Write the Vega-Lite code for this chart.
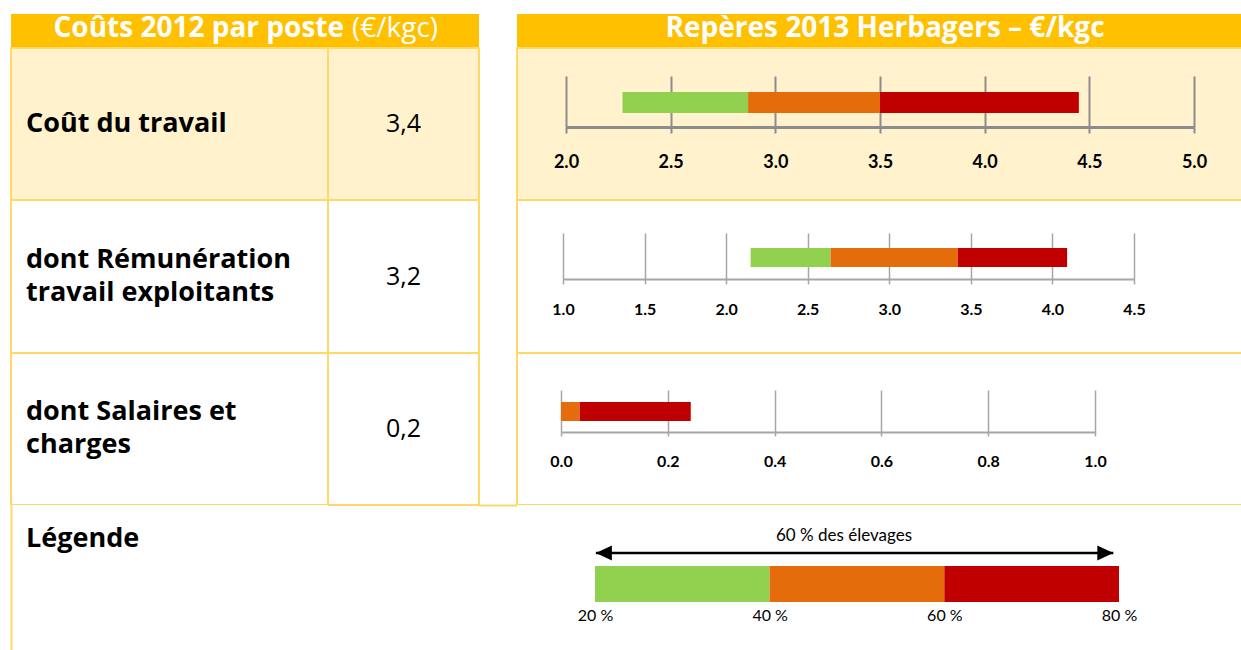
{
  "$schema": "https://vega.github.io/schema/vega-lite/v6.json",
  "background": "white",
  "padding": {"left": 10, "top": 14, "right": 0, "bottom": 0},
  "columns": 4,
  "align": "each",
  "bounds": "flush",
  "spacing": 0,
  "config": {"view": {"stroke": null}, "font": "Open Sans", "axis": {"grid": false, "labelFont": "Lato"}},
  "datasets": {
    "postes": [
      {"poste": "Coût du travail", "libelle": "Coût du travail", "valeur": "3,4"},
      {"poste": "Rémunération", "libelle": "dont Rémunération\ntravail exploitants", "valeur": "3,2"},
      {"poste": "Salaires", "libelle": "dont Salaires et\ncharges", "valeur": "0,2"}
    ],
    "reperes": [
      {"poste": "Coût du travail", "tranche": "20-40 %", "debut": 2.27, "fin": 2.87},
      {"poste": "Coût du travail", "tranche": "40-60 %", "debut": 2.87, "fin": 3.50},
      {"poste": "Coût du travail", "tranche": "60-80 %", "debut": 3.50, "fin": 4.45},
      {"poste": "Rémunération", "tranche": "20-40 %", "debut": 2.15, "fin": 2.64},
      {"poste": "Rémunération", "tranche": "40-60 %", "debut": 2.64, "fin": 3.42},
      {"poste": "Rémunération", "tranche": "60-80 %", "debut": 3.42, "fin": 4.09},
      {"poste": "Salaires", "tranche": "20-40 %", "debut": 0, "fin": 0},
      {"poste": "Salaires", "tranche": "40-60 %", "debut": 0, "fin": 0.035},
      {"poste": "Salaires", "tranche": "60-80 %", "debut": 0.035, "fin": 0.243}
    ],
    "legende": [
      {"ligne": "barre", "tranche": "20-40 %", "debut": 20, "fin": 40},
      {"ligne": "barre", "tranche": "40-60 %", "debut": 40, "fin": 60},
      {"ligne": "barre", "tranche": "60-80 %", "debut": 60, "fin": 80}
    ],
    "entetes": [
      {"entete": "gauche", "partie": "gras", "texte": "Coûts 2012 par poste"},
      {"entete": "gauche", "partie": "normal", "texte": "(€/kgc)"},
      {"entete": "droite", "partie": "gras", "texte": "Repères 2013 Herbagers – €/kgc"}
    ]
  },
  "concat": [
    {"width": 317, "height": 34, "view": {"fill": "#FFC000", "stroke": null}, "data": {"values": [{}]}, "mark": {"type": "point", "opacity": 0}},
    {
      "width": 151, "height": 34,
      "view": {"fill": "#FFC000", "stroke": null},
      "data": {"name": "entetes"},
      "transform": [{"filter": "datum.entete === 'gauche'"}],
      "layer": [
        {
          "transform": [{"filter": "datum.partie === 'gras'"}],
          "mark": {"type": "text", "align": "right", "baseline": "middle", "fontWeight": "bold", "fontSize": 28, "color": "white", "dy": -2},
          "encoding": {
            "x": {"field": "partie", "type": "nominal", "scale": {"type": "point", "domain": ["gras", "normal"], "range": [16, 24], "padding": 0}, "axis": null},
            "text": {"field": "texte"}
          }
        },
        {
          "transform": [{"filter": "datum.partie === 'normal'"}],
          "mark": {"type": "text", "align": "left", "baseline": "middle", "fontWeight": "normal", "fontSize": 28, "color": "white", "dy": -2},
          "encoding": {
            "x": {"field": "partie", "type": "nominal"},
            "text": {"field": "texte"}
          }
        }
      ]
    },
    {"width": 38, "height": 34, "data": {"values": [{}]}, "mark": {"type": "point", "opacity": 0}},
    {
      "width": 726, "height": 34,
      "view": {"fill": "#FFC000", "stroke": null},
      "data": {"name": "entetes"},
      "transform": [{"filter": "datum.entete === 'droite'"}],
      "mark": {"type": "text", "align": "center", "baseline": "middle", "fontWeight": "bold", "fontSize": 28, "color": "white", "dy": -2, "dx": 5},
      "encoding": {"text": {"field": "texte"}}
    },

    {
      "width": 317, "height": 152,
      "view": {"fill": "#FFF2CC", "stroke": "#FFD966", "strokeWidth": 2},
      "data": {"name": "postes"},
      "transform": [{"filter": "datum.poste === 'Coût du travail'"}],
      "mark": {"type": "text", "align": "left", "baseline": "middle", "fontWeight": "bold", "fontSize": 27, "lineBreak": "\n", "lineHeight": 33, "color": "black"},
      "encoding": {
        "x": {"field": "poste", "type": "nominal", "scale": {"type": "point", "range": [15, 15]}, "axis": null},
        "text": {"field": "libelle"}
      }
    },
    {
      "width": 151, "height": 152,
      "view": {"fill": "#FFF2CC", "stroke": "#FFD966", "strokeWidth": 2},
      "data": {"name": "postes"},
      "transform": [{"filter": "datum.poste === 'Coût du travail'"}],
      "mark": {"type": "text", "align": "center", "baseline": "middle", "fontSize": 25, "color": "black"},
      "encoding": {"text": {"field": "valeur"}}
    },
    {"width": 38, "height": 152, "data": {"values": [{}]}, "mark": {"type": "point", "opacity": 0}},
    {
      "width": 726, "height": 152,
      "view": {"fill": "#FFF2CC", "stroke": "#FFD966", "strokeWidth": 2},
      "data": {"name": "reperes"},
      "transform": [{"filter": "datum.poste === 'Coût du travail'"}],
      "layer": [
        {
          "mark": {"type": "bar"},
          "encoding": {
            "x": {"field": "debut", "type": "quantitative",
                  "scale": {"domain": [2, 5], "range": [49, 677], "nice": false, "zero": false},
                  "axis": {"orient": "bottom", "values": [2, 2.5, 3, 3.5, 4, 4.5, 5], "offset": -73, "labels": false, "domain": true, "domainColor": "#8C8C8C", "domainWidth": 3, "ticks": true, "tickSize": -51, "tickColor": "#8C8C8C", "tickWidth": 2, "grid": false, "title": null}},
            "x2": {"field": "fin"},
            "y": {"field": "poste", "type": "nominal", "scale": {"range": [44, 65], "paddingInner": 0, "paddingOuter": 0}, "axis": null},
            "color": {"field": "tranche", "type": "nominal", "scale": {"domain": ["20-40 %", "40-60 %", "60-80 %"], "range": ["#92D050", "#E46C0A", "#C00000"]}, "legend": null}
          }
        },
        {
          "mark": {"type": "tick", "opacity": 0},
          "encoding": {
            "x": {"field": "debut", "type": "quantitative",
                  "axis": {"orient": "bottom", "values": [2, 2.5, 3, 3.5, 4, 4.5, 5], "offset": -73, "labels": true, "domain": false, "ticks": true, "tickSize": 6, "tickColor": "#8C8C8C", "tickWidth": 2, "format": ".1f", "labelFontSize": 18, "labelFontWeight": "bold", "labelColor": "black", "labelPadding": 20, "labelFlush": false, "labelOverlap": false, "grid": false, "title": null}}
          }
        }
      ],
      "resolve": {"axis": {"x": "independent"}}
    },

    {
      "width": 317, "height": 153,
      "view": {"fill": "white", "stroke": "#FFD966", "strokeWidth": 2},
      "data": {"name": "postes"},
      "transform": [{"filter": "datum.poste === 'Rémunération'"}],
      "mark": {"type": "text", "align": "left", "baseline": "middle", "fontWeight": "bold", "fontSize": 27, "lineBreak": "\n", "lineHeight": 33, "color": "black", "dy": -17},
      "encoding": {
        "x": {"field": "poste", "type": "nominal", "scale": {"type": "point", "range": [15, 15]}, "axis": null},
        "text": {"field": "libelle"}
      }
    },
    {
      "width": 151, "height": 153,
      "view": {"fill": "white", "stroke": "#FFD966", "strokeWidth": 2},
      "data": {"name": "postes"},
      "transform": [{"filter": "datum.poste === 'Rémunération'"}],
      "mark": {"type": "text", "align": "center", "baseline": "middle", "fontSize": 25, "color": "black"},
      "encoding": {"text": {"field": "valeur"}}
    },
    {"width": 38, "height": 153, "data": {"values": [{}]}, "mark": {"type": "point", "opacity": 0}},
    {
      "width": 726, "height": 153,
      "view": {"fill": "white", "stroke": "#FFD966", "strokeWidth": 2},
      "data": {"name": "reperes"},
      "transform": [{"filter": "datum.poste === 'Rémunération'"}],
      "layer": [
        {
          "mark": {"type": "bar"},
          "encoding": {
            "x": {"field": "debut", "type": "quantitative",
                  "scale": {"domain": [1, 4.5], "range": [46, 617], "nice": false, "zero": false},
                  "axis": {"orient": "bottom", "values": [1, 1.5, 2, 2.5, 3, 3.5, 4, 4.5], "offset": -74, "labels": false, "domain": true, "domainColor": "#A6A6A6", "domainWidth": 2, "ticks": true, "tickSize": -46, "tickColor": "#A6A6A6", "tickWidth": 1.5, "grid": false, "title": null}},
            "x2": {"field": "fin"},
            "y": {"field": "poste", "type": "nominal", "scale": {"range": [48, 67], "paddingInner": 0, "paddingOuter": 0}, "axis": null},
            "color": {"field": "tranche", "type": "nominal", "scale": {"domain": ["20-40 %", "40-60 %", "60-80 %"], "range": ["#92D050", "#E46C0A", "#C00000"]}, "legend": null}
          }
        },
        {
          "mark": {"type": "tick", "opacity": 0},
          "encoding": {
            "x": {"field": "debut", "type": "quantitative",
                  "axis": {"orient": "bottom", "values": [1, 1.5, 2, 2.5, 3, 3.5, 4, 4.5], "offset": -74, "labels": true, "domain": false, "ticks": true, "tickSize": 5, "tickColor": "#A6A6A6", "tickWidth": 1.5, "format": ".1f", "labelFontSize": 16, "labelFontWeight": "bold", "labelColor": "black", "labelPadding": 17, "labelFlush": false, "labelOverlap": false, "grid": false, "title": null}}
          }
        }
      ],
      "resolve": {"axis": {"x": "independent"}}
    },

    {
      "width": 317, "height": 152,
      "view": {"fill": "white", "stroke": "#FFD966", "strokeWidth": 2},
      "data": {"name": "postes"},
      "transform": [{"filter": "datum.poste === 'Salaires'"}],
      "mark": {"type": "text", "align": "left", "baseline": "middle", "fontWeight": "bold", "fontSize": 27, "lineBreak": "\n", "lineHeight": 33, "color": "black", "dy": -17},
      "encoding": {
        "x": {"field": "poste", "type": "nominal", "scale": {"type": "point", "range": [15, 15]}, "axis": null},
        "text": {"field": "libelle"}
      }
    },
    {
      "width": 151, "height": 152,
      "view": {"fill": "white", "stroke": "#FFD966", "strokeWidth": 2},
      "data": {"name": "postes"},
      "transform": [{"filter": "datum.poste === 'Salaires'"}],
      "mark": {"type": "text", "align": "center", "baseline": "middle", "fontSize": 25, "color": "black"},
      "encoding": {"text": {"field": "valeur"}}
    },
    {"width": 38, "height": 152, "data": {"values": [{}]}, "mark": {"type": "point", "opacity": 0}},
    {
      "width": 726, "height": 152,
      "view": {"fill": "white", "stroke": "#FFD966", "strokeWidth": 2},
      "data": {"name": "reperes"},
      "transform": [{"filter": "datum.poste === 'Salaires'"}],
      "layer": [
        {
          "mark": {"type": "bar"},
          "encoding": {
            "x": {"field": "debut", "type": "quantitative",
                  "scale": {"domain": [0, 1], "range": [44, 578], "nice": false, "zero": false},
                  "axis": {"orient": "bottom", "values": [0, 0.2, 0.4, 0.6, 0.8, 1], "offset": -73, "labels": false, "domain": true, "domainColor": "#A6A6A6", "domainWidth": 2, "ticks": true, "tickSize": -42, "tickColor": "#A6A6A6", "tickWidth": 1.5, "grid": false, "title": null}},
            "x2": {"field": "fin"},
            "y": {"field": "poste", "type": "nominal", "scale": {"range": [49, 68], "paddingInner": 0, "paddingOuter": 0}, "axis": null},
            "color": {"field": "tranche", "type": "nominal", "scale": {"domain": ["20-40 %", "40-60 %", "60-80 %"], "range": ["#92D050", "#E46C0A", "#C00000"]}, "legend": null}
          }
        },
        {
          "mark": {"type": "tick", "opacity": 0},
          "encoding": {
            "x": {"field": "debut", "type": "quantitative",
                  "axis": {"orient": "bottom", "values": [0, 0.2, 0.4, 0.6, 0.8, 1], "offset": -73, "labels": true, "domain": false, "ticks": true, "tickSize": 4, "tickColor": "#A6A6A6", "tickWidth": 1.5, "format": ".1f", "labelFontSize": 16, "labelFontWeight": "bold", "labelColor": "black", "labelPadding": 17, "labelFlush": false, "labelOverlap": false, "grid": false, "title": null}}
          }
        }
      ],
      "resolve": {"axis": {"x": "independent"}}
    },

    {
      "width": 317, "height": 150,
      "view": {"fill": "white", "stroke": null},
      "layer": [
        {
          "data": {"values": [{"ligne": "titre", "texte": "Légende"}]},
          "mark": {"type": "text", "align": "left", "baseline": "middle", "fontWeight": "bold", "fontSize": 27, "color": "black"},
          "encoding": {
            "x": {"field": "ligne", "type": "nominal", "scale": {"type": "point", "range": [15, 15]}, "axis": null},
            "y": {"field": "ligne", "type": "nominal", "scale": {"type": "point", "range": [34, 34]}, "axis": null},
            "text": {"field": "texte"}
          }
        },
        {
          "data": {"values": [{}]},
          "mark": {"type": "point", "opacity": 0},
          "encoding": {
            "y": {"datum": 0.5, "type": "quantitative", "scale": {"domain": [0, 1]},
                  "axis": {"orient": "left", "domain": true, "domainColor": "#FFD966", "domainWidth": 2, "ticks": false, "labels": false, "grid": false, "title": null}}
          }
        }
      ],
      "resolve": {"scale": {"x": "independent", "y": "independent"}}
    },
    {"width": 151, "height": 150, "data": {"values": [{}]}, "mark": {"type": "point", "opacity": 0}},
    {
      "width": 38, "height": 150,
      "data": {"values": [{}]},
      "mark": {"type": "point", "opacity": 0},
      "encoding": {
        "x": {"datum": 0.5, "type": "quantitative", "scale": {"domain": [0, 1]},
              "axis": {"orient": "top", "domain": true, "domainColor": "#FFD966", "domainWidth": 2, "ticks": false, "labels": false, "grid": false, "title": null}}
      }
    },
    {
      "width": 726, "height": 150,
      "view": {"fill": "white", "stroke": null},
      "layer": [
        {
          "data": {"name": "legende"},
          "mark": {"type": "bar"},
          "encoding": {
            "x": {"field": "debut", "type": "quantitative",
                  "scale": {"domain": [20, 80], "range": [78, 602], "nice": false, "zero": false},
                  "axis": {"orient": "bottom", "values": [20, 40, 60, 80], "labelExpr": "datum.value + ' %'", "offset": -53, "domain": false, "ticks": false, "tickSize": 0, "labelPadding": 5, "labelFontSize": 16, "labelFontWeight": "normal", "labelColor": "black", "labelFlush": false, "labelOverlap": false, "grid": false, "title": null}},
            "x2": {"field": "fin"},
            "y": {"field": "ligne", "type": "nominal", "scale": {"range": [61, 97], "paddingInner": 0, "paddingOuter": 0}, "axis": null},
            "color": {"field": "tranche", "type": "nominal", "scale": {"domain": ["20-40 %", "40-60 %", "60-80 %"], "range": ["#92D050", "#E46C0A", "#C00000"]}, "legend": null}
          }
        },
        {
          "data": {"values": [{"ligne": "flèche", "de": 20.1, "a": 79.35}]},
          "mark": {"type": "rule", "color": "black", "strokeWidth": 2.5},
          "encoding": {
            "x": {"field": "de", "type": "quantitative"},
            "x2": {"field": "a"},
            "y": {"field": "ligne", "type": "nominal", "scale": {"type": "point", "range": [48, 48]}, "axis": null}
          }
        },
        {
          "data": {"values": [{"ligne": "flèche", "extremite": "gauche", "pos": 20.1}, {"ligne": "flèche", "extremite": "droite", "pos": 79.35}]},
          "mark": {"type": "point", "filled": true, "color": "black", "opacity": 1, "size": 256},
          "encoding": {
            "x": {"field": "pos", "type": "quantitative"},
            "y": {"field": "ligne", "type": "nominal", "scale": {"type": "point", "range": [48, 48]}, "axis": null},
            "shape": {"field": "extremite", "type": "nominal", "scale": {"domain": ["gauche", "droite"], "range": ["M0,0L2,-0.95L2,0.95Z", "M0,0L-2,-0.95L-2,0.95Z"]}, "legend": null}
          }
        },
        {
          "data": {"values": [{"ligne": "libellé", "texte": "60 % des élevages"}]},
          "mark": {"type": "text", "font": "Lato", "fontSize": 17, "color": "black", "baseline": "middle", "dx": -13},
          "encoding": {
            "x": {"datum": 50, "type": "quantitative"},
            "y": {"field": "ligne", "type": "nominal", "scale": {"type": "point", "range": [31, 31]}, "axis": null},
            "text": {"field": "texte"}
          }
        }
      ],
      "resolve": {"scale": {"y": "independent"}}
    }
  ]
}
